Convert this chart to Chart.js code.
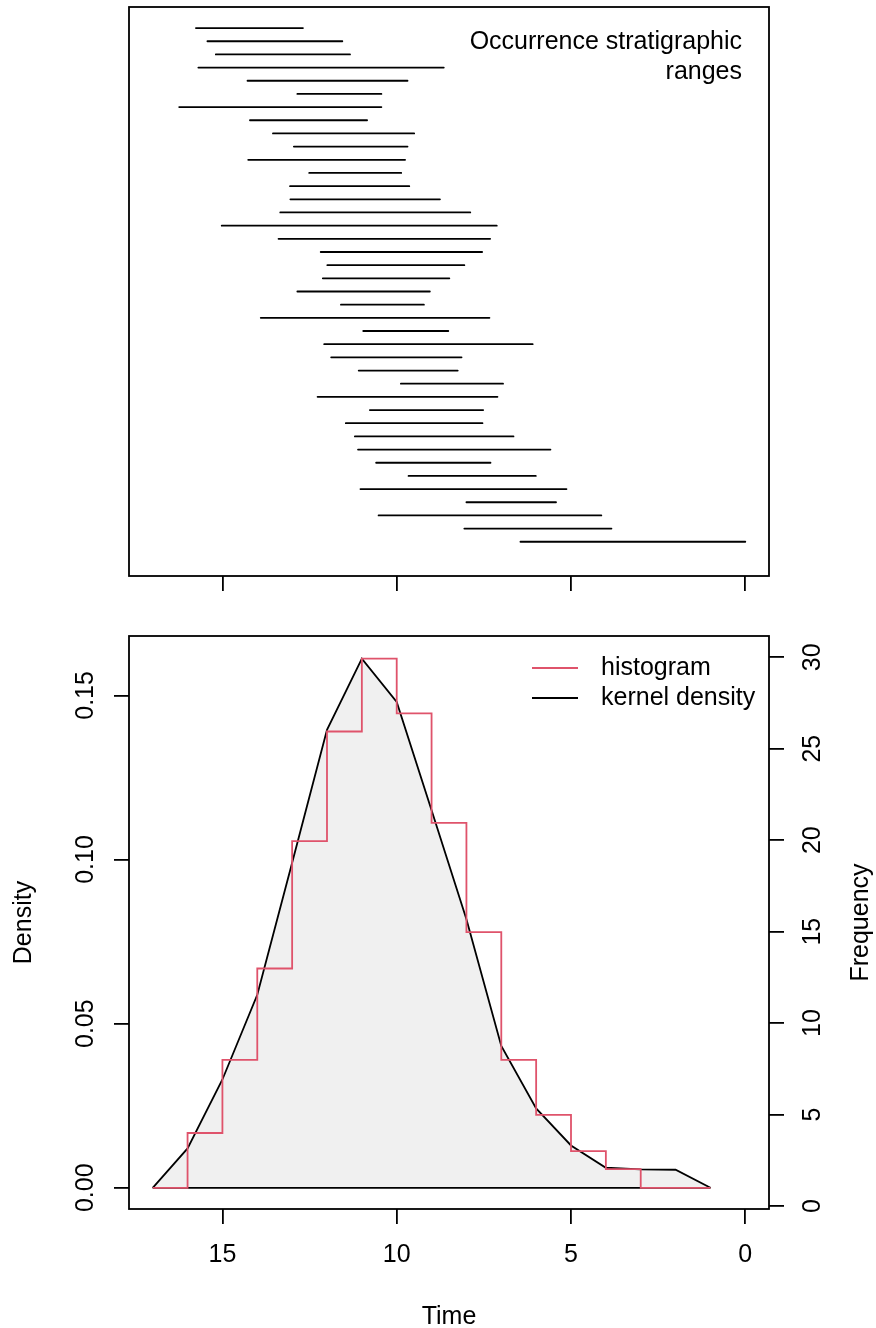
<!DOCTYPE html>
<html>
<head>
<meta charset="utf-8">
<script src="https://cdn.jsdelivr.net/npm/chart.js@4.4.0/dist/chart.umd.min.js"></script>
<style>
  html, body { margin: 0; padding: 0; background: #fff; }
  #wrap { position: relative; width: 876px; height: 1328px; }
  canvas { position: absolute; left: 0; }
</style>
</head>
<body>
<div id="wrap">
  <canvas id="rangeChart" width="876" height="600" style="top:0"></canvas>
  <canvas id="densChart" width="876" height="728" style="top:600px"></canvas>
</div>
<script>
// stratigraphic ranges, one row per taxon from top to bottom: oldest and youngest time
const rangeStart = [15.76, 15.43, 15.19, 15.69, 14.28, 12.85, 16.24, 14.21, 13.55, 12.95,
                    14.26, 12.51, 13.06, 13.05, 13.34, 15.02, 13.39, 12.18, 11.99, 12.12,
                    12.85, 11.60, 13.90, 10.96, 12.08, 11.88, 11.09, 9.88, 12.27, 10.77,
                    11.46, 11.20, 11.11, 10.59, 9.66, 11.04, 8.00, 10.52, 8.06, 6.45];
const rangeEnd   = [12.69, 11.56, 11.34, 8.65, 9.69, 10.44, 10.44, 10.85, 9.50, 9.69,
                    9.76, 9.87, 9.64, 8.76, 7.89, 7.13, 7.32, 7.55, 8.06, 8.49,
                    9.05, 9.22, 7.34, 8.52, 6.10, 8.14, 8.25, 6.95, 7.11, 7.52,
                    7.54, 6.65, 5.59, 7.31, 6.01, 5.13, 5.43, 4.13, 3.84, 0.00];
const noteLines = ['Occurrence stratigraphic', 'ranges'];

const timeTicks = [15, 10, 5, 0];

// histogram: bin edges (older to younger) and density of each 1-unit bin
const binEdges = [17, 16, 15, 14, 13, 12, 11, 10, 9, 8, 7, 6, 5, 4, 3, 2, 1];
const histDensity = [0, 0.0167, 0.0390, 0.0668, 0.1056, 0.1390, 0.1612, 0.1445,
                     0.1112, 0.0779, 0.0390, 0.0222, 0.0112, 0.0057, 0, 0];

// kernel density curve
const kdeTime = [17, 16, 15, 14, 13, 12, 11, 10, 9, 8, 7, 6, 5, 4, 3, 2, 1];
const kdeDensity = [0, 0.0120, 0.0330, 0.0588, 0.0990, 0.1395, 0.1612, 0.1480,
                    0.1150, 0.0818, 0.0432, 0.0242, 0.0129, 0.0061, 0.0056, 0.0055, 0];

const densityTicks = [0, 0.05, 0.10, 0.15];
const freqTicks = [0, 5, 10, 15, 20, 25, 30];

Chart.defaults.font.family = "'Liberation Sans', Arial, Helvetica, sans-serif";
Chart.defaults.font.size = 25;
Chart.defaults.color = '#000';

const LW = 1.8;

const framePlugin = {
    id: 'frame',
    afterDatasetsDraw(chart) {
        const { ctx, chartArea: a } = chart;
        ctx.save();
        ctx.strokeStyle = '#000';
        ctx.lineWidth = LW;
        ctx.strokeRect(a.left, a.top, a.right - a.left, a.bottom - a.top);
        ctx.restore();
    }
};

const fontStr = "25px 'Liberation Sans', Arial, Helvetica, sans-serif";

// right-aligned note in the top panel
const notePlugin = {
    id: 'note',
    afterDraw(chart) {
        const { ctx, chartArea: a } = chart;
        ctx.save();
        ctx.font = fontStr;
        ctx.fillStyle = '#000';
        ctx.textAlign = 'right';
        ctx.textBaseline = 'middle';
        noteLines.forEach((t, i) => ctx.fillText(t, a.right - 27, a.top + 35 + i * 30));
        ctx.restore();
    }
};

// R style legend (no box) + right axis title reading bottom to top
const extrasPlugin = {
    id: 'extras',
    afterDraw(chart) {
        const { ctx, chartArea: a } = chart;
        ctx.save();
        ctx.font = fontStr;
        ctx.fillStyle = '#000';
        ctx.textBaseline = 'middle';
        chart.data.datasets.slice(0, 2).forEach((ds, i) => {
            const y = a.top + 32 + i * 30;
            ctx.strokeStyle = ds.borderColor;
            ctx.lineWidth = LW;
            ctx.beginPath();
            ctx.moveTo(a.left + 403, y);
            ctx.lineTo(a.left + 449, y);
            ctx.stroke();
            ctx.textAlign = 'left';
            ctx.fillText(ds.label, a.left + 472, y);
        });
        ctx.translate(861, (a.top + a.bottom) / 2);
        ctx.rotate(-Math.PI / 2);
        ctx.textAlign = 'center';
        ctx.fillText('Frequency', 0, 0);
        ctx.restore();
    }
};

// ---- top panel: ranges ----
const segs = [];
rangeStart.forEach((s, i) => {
    segs.push({ x: s, y: i + 1 }, { x: rangeEnd[i], y: i + 1 }, { x: rangeEnd[i], y: null });
});

new Chart(document.getElementById('rangeChart'), {
    type: 'line',
    data: {
        datasets: [{
            label: 'ranges',
            data: segs,
            borderColor: '#000',
            borderWidth: LW,
            borderCapStyle: 'round',
            pointRadius: 0,
            spanGaps: false,
            fill: false
        }]
    },
    options: {
        responsive: false,
        animation: false,
        events: [],
        layout: { padding: { top: 7, left: 129, right: 107 } },
        plugins: { legend: { display: false }, tooltip: { enabled: false } },
        scales: {
            x: {
                type: 'linear', reverse: true, min: -0.68, max: 17.68, position: 'bottom',
                afterBuildTicks: s => { s.ticks = timeTicks.map(v => ({ value: v })); },
                afterFit: s => { s.height = 24; },
                ticks: { display: false },
                grid: { drawOnChartArea: false, drawTicks: true, tickLength: 15, color: '#000', lineWidth: LW },
                border: { display: false }
            },
            y: { type: 'linear', reverse: true, min: -0.6, max: 42.6, display: false }
        }
    },
    plugins: [framePlugin, notePlugin]
});

// ---- bottom panel: histogram + kernel density ----
const histPoints = binEdges.map((t, i) => ({ x: t, y: i < histDensity.length ? histDensity[i] : 0 }));
const kdePoints = kdeTime.map((t, i) => ({ x: t, y: kdeDensity[i] }));
const basePoints = [{ x: kdeTime[0], y: 0 }, { x: kdeTime[kdeTime.length - 1], y: 0 }];

new Chart(document.getElementById('densChart'), {
    type: 'line',
    data: {
        datasets: [
            {
                label: 'histogram',
                data: histPoints,
                borderColor: '#DF536B',
                borderWidth: LW,
                stepped: 'before',
                pointRadius: 0,
                fill: false,
                order: 0
            },
            {
                label: 'kernel density',
                data: kdePoints,
                borderColor: '#000',
                backgroundColor: '#F0F0F0',
                borderWidth: LW,
                pointRadius: 0,
                tension: 0,
                fill: 'origin',
                order: 2
            },
            {
                label: 'baseline',
                data: basePoints,
                borderColor: '#000',
                borderWidth: LW,
                pointRadius: 0,
                fill: false,
                order: 1
            }
        ]
    },
    options: {
        responsive: false,
        animation: false,
        events: [],
        layout: { padding: { top: 36 } },
        plugins: { legend: { display: false }, tooltip: { enabled: false } },
        scales: {
            x: {
                type: 'linear', reverse: true, min: -0.68, max: 17.68, position: 'bottom',
                afterBuildTicks: s => { s.ticks = timeTicks.map(v => ({ value: v })); },
                afterFit: s => { s.height = 119; },
                ticks: { padding: 16, maxRotation: 0, autoSkip: false },
                grid: { drawOnChartArea: false, drawTicks: true, tickLength: 15, color: '#000', lineWidth: LW },
                border: { display: false },
                title: { display: true, text: 'Time', padding: { top: 0, bottom: -4 } }
            },
            y: {
                type: 'linear', position: 'left', min: -0.00646, max: 0.1681,
                afterBuildTicks: s => { s.ticks = densityTicks.map(v => ({ value: v })); },
                afterFit: s => { s.width = 129; },
                ticks: { callback: v => v.toFixed(2), minRotation: 90, maxRotation: 90, crossAlign: 'center', padding: 4, autoSkip: false },
                grid: { drawOnChartArea: false, drawTicks: true, tickLength: 15, color: '#000', lineWidth: LW },
                border: { display: false },
                title: { display: true, text: 'Density', padding: { top: 9, bottom: 0 } }
            },
            y2: {
                type: 'linear', position: 'right', min: -0.16, max: 31.16,
                afterBuildTicks: s => { s.ticks = freqTicks.map(v => ({ value: v })); },
                afterFit: s => { s.width = 107; },
                ticks: { minRotation: 90, maxRotation: 90, crossAlign: 'center', padding: 15, autoSkip: false },
                grid: { drawOnChartArea: false, drawTicks: true, tickLength: 15, color: '#000', lineWidth: LW },
                border: { display: false }
            }
        }
    },
    plugins: [framePlugin, extrasPlugin]
});
</script>
</body>
</html>
